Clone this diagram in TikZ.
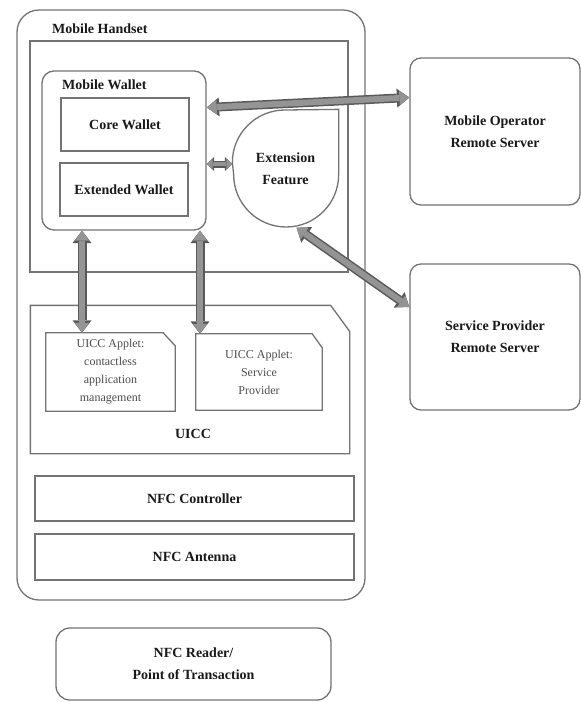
\documentclass[tikz,border=0pt]{standalone}
\usepackage{fontspec}
\setmainfont{Liberation Serif}
\usetikzlibrary{arrows.meta}

\begin{document}
\begin{tikzpicture}[x=1pt,y=-1pt]
%define
\tikzstyle{box} = [rectangle, draw=black!55, line width=1.3pt, inner sep=0pt, text centered, align=center, text=black!90, font=\bfseries\fontsize{14}{22}\selectfont]
\tikzstyle{rbox} = [box, rounded corners=11pt]
\tikzstyle{hollow} = [box, draw=none]
\tikzstyle{applet} = [rectangle, inner sep=0pt, align=center, text=black!70, font=\fontsize{12}{18}\selectfont]
\tikzstyle{caption} = [inner sep=0pt, text=black!90, font=\bfseries\fontsize{14}{22}\selectfont]
\tikzstyle{edge} = [draw=black!55, line width=1.3pt]
\tikzstyle{fat} = [draw=black!42, line width=6pt, {Triangle[length=10pt,width=14pt,line width=0pt]}-{Triangle[length=10pt,width=14pt,line width=0pt]}, preaction={draw=black!65, line width=9pt, {Triangle[length=12.5pt,width=19pt,line width=0pt]}-{Triangle[length=12.5pt,width=19pt,line width=0pt]}}]
\tikzstyle{fatshort} = [draw=black!42, line width=4.5pt, {Triangle[length=6pt,width=10pt,line width=0pt]}-{Triangle[length=6pt,width=10pt,line width=0pt]}, preaction={draw=black!65, line width=7pt, {Triangle[length=7.5pt,width=14pt,line width=0pt]}-{Triangle[length=7.5pt,width=14pt,line width=0pt]}}]

\useasboundingbox (0,0) rectangle (581,702);

%handset
\node[rbox, rounded corners=22pt, minimum width=348pt, minimum height=590pt](handset) at (191,305){};
\node[caption, anchor=west](handsettitle) at (52,29){Mobile Handset};
\node[box, minimum width=318pt, minimum height=231pt](applayer) at (189,156.5){};
%wallet
\node[rbox, rounded corners=12pt, minimum width=164pt, minimum height=159pt](wallet) at (124,150.5){};
\node[caption, anchor=west](wallettitle) at (62,85){Mobile Wallet};
\node[box, minimum width=128pt, minimum height=53pt](core) at (125,124.5){Core Wallet};
\node[box, minimum width=128pt, minimum height=53pt](extended) at (124,189.5){Extended Wallet};
%extension
\node[hollow, minimum width=105pt, minimum height=117pt](ext) at (285.5,168.5){Extension\\Feature};
\draw[edge](ext.north east)--([yshift=-6pt]ext.east) arc[start angle=0, end angle=180, radius=52.5]--([yshift=6pt]ext.west) arc[start angle=180, end angle=270, radius=52.5]--cycle;
%uicc
\node[hollow, minimum width=318pt, minimum height=147pt](uicc) at (190,379.5){};
\draw[edge](uicc.north west)--([xshift=-19pt]uicc.north east)--([yshift=-26pt]uicc.north east)--(uicc.south east)--(uicc.south west)--cycle;
\node[caption](uicctitle) at (193,434){UICC};
\node[applet, minimum width=129pt, minimum height=78pt](applet1) at (110.5,372){UICC Applet:\\contactless\\application\\management};
\draw[edge](applet1.north west)--([xshift=-12pt]applet1.north east)--([yshift=-13pt]applet1.north east)--(applet1.south east)--(applet1.south west)--cycle;
\node[applet, minimum width=126pt, minimum height=76pt](applet2) at (259,372){UICC Applet:\\Service\\Provider};
\draw[edge](applet2.north west)--([xshift=-10pt]applet2.north east)--([yshift=-14pt]applet2.north east)--(applet2.south east)--(applet2.south west)--cycle;
%nfc
\node[box, minimum width=319pt, minimum height=45pt](controller) at (194.5,498.5){NFC Controller};
\node[box, minimum width=319pt, minimum height=46pt](antenna) at (194.5,557){NFC Antenna};
\node[rbox, rounded corners=14pt, minimum width=275pt, minimum height=72pt](reader) at (193.5,664){NFC Reader/\\Point of Transaction};
%servers
\node[rbox, minimum width=170pt, minimum height=147pt](opserver) at (495,131.5){Mobile Operator\\Remote Server};
\node[rbox, minimum width=170pt, minimum height=146pt](spserver) at (495,337){Service Provider\\Remote Server};

%line
\draw[fat]([yshift=43pt]wallet.east)--([yshift=34pt]opserver.west);
\draw[fatshort]([yshift=-13.5pt]wallet.east)--([yshift=4.5pt]ext.west);
\draw[fat]([xshift=11pt]ext.south)--([yshift=30pt]spserver.west);
\draw[fat]([xshift=-42pt]wallet.south)--([xshift=-28.5pt]applet1.north);
\draw[fat]([xshift=76pt]wallet.south)--([xshift=-59pt]applet2.north);

\end{tikzpicture}
\end{document}
